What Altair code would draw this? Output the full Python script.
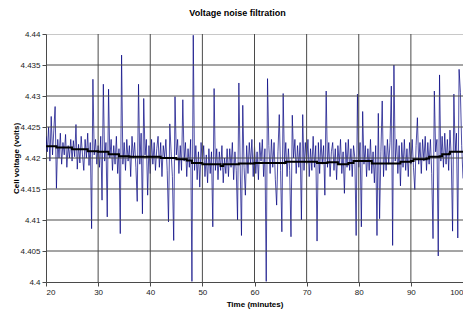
import altair as alt
import pandas as pd
import numpy as np

# Raw cell voltage, sampled every 0.25 min from t=20 to t=100,
# stored as deviation from 4.42 V in units of 0.1 mV
noise_dev = [
    35, 10, 50, -5, 67, 5, 45, 83, -49, 30, 0, 40, -10, 25, 5, 38, -15, 20, 0, 30,
    -5, 28, 2, 54, -18, 22, -8, 35, 5, -20, 30, 0, 40, -12, 25, -114, 127, 5, 30, -10,
    20, -15, 35, -68, 119, -5, 25, -95, 111, 0, 30, -20, 20, -10, 35, -25, 15, -122, 166, -10,
    25, -20, 30, -5, 20, -30, 35, 0, 25, -15, -70, 119, -10, 40, -90, 96, 5, 30, -60, 20,
    -25, 30, -10, 25, -20, 15, 35, -15, 25, -30, 20, 0, 30, -20, -103, 55, 10, -30, -133, 99,
    5, 30, -25, 20, -20, 94, -5, 25, -30, 15, -15, 30, -199, 198, -20, 20, -35, 10, -47, 25,
    -10, 20, -30, 5, -40, 15, -25, 10, -111, 112, -20, 15, -35, 10, -20, 20, -40, 0, -25, 15,
    -30, 15, -15, 25, -35, 10, -20, -100, 121, -10, -125, 85, -15, -60, 20, -25, 25, -10, 30, -30,
    20, -25, 10, -35, 25, -5, 30, -30, 15, -199, 128, 20, -25, 30, -15, 25, -35, -76, 10, 70,
    -20, -119, 104, -10, 25, -30, 15, -20, -127, 69, 0, 30, -25, 20, -15, 25, -100, 70, -20, 25,
    -10, 30, -30, 15, -20, 35, -15, 20, -134, 25, -25, 30, -10, 20, -60, 108, -15, 25, -30, 10,
    25, -20, 15, -35, 20, -10, 30, -25, 10, -57, 25, -15, 30, -20, 15, -30, 20, 0, -125, 103,
    -15, 25, -111, 75, -10, 20, -30, 15, -20, 30, -25, 10, -40, 20, -125, 72, -98, 10, 92, -30,
    20, -20, 30, -10, 25, 116, -141, 150, -5, 30, -25, 20, -45, 25, -15, 30, -20, 15, -30, 25,
    -10, 30, -15, -51, 20, 65, -10, 25, -25, 30, -5, 35, -20, 25, -10, 30, -25, -130, 108, 10,
    30, -158, 134, -5, 35, -15, 40, -10, 30, -20, 45, 0, -118, 103, 10, 40, -129, 143, 106, 20,
    -33,
]

# Filtered (smoothed) voltage
smooth_t = [20, 22, 25, 28, 30, 32, 34, 36, 40, 42, 45, 47, 48, 50, 53.5, 54, 57, 60, 64, 66,
            70, 72, 74, 76, 78, 79, 82, 82.5, 87.5, 88, 90, 90.5, 93, 93.5, 95.5, 96, 97.3, 97.5, 100]
smooth_v = [4.4219, 4.4217, 4.4214, 4.4211, 4.4210, 4.4206, 4.4203, 4.4202, 4.4202, 4.4200,
            4.4198, 4.4196, 4.4192, 4.4190, 4.4187, 4.4190, 4.4191, 4.4192, 4.4192, 4.4194,
            4.4194, 4.4192, 4.4193, 4.4190, 4.4192, 4.4195, 4.4195, 4.4191, 4.4191, 4.4194,
            4.4195, 4.4198, 4.4199, 4.4202, 4.4203, 4.4206, 4.4207, 4.4210, 4.4211]

x_ticks = [20, 30, 40, 50, 60, 70, 80, 90, 100]
y_ticks = [4.4, 4.405, 4.41, 4.415, 4.42, 4.425, 4.43, 4.435, 4.44]

t_noise = 20 + 0.25 * np.arange(len(noise_dev))
noise_df = pd.DataFrame({"t": t_noise, "v": 4.42 + np.array(noise_dev) / 10000.0})
smooth_df = pd.DataFrame({"t": smooth_t, "v": smooth_v})
xgrid_df = pd.DataFrame({"t": x_ticks[1:-1]})
ygrid_df = pd.DataFrame({"v": y_ticks[1:-1]})

FONT = "Liberation Sans"
GRID = "#4a4a4a"
W, H = 417, 248

x_scale = alt.Scale(domain=[20, 100], nice=False, zero=False)
y_scale = alt.Scale(domain=[4.4, 4.44], nice=False, zero=False)

x_ax = alt.Axis(values=x_ticks, title="Time (minutes)", format="d", grid=False,
                labelOverlap=False, titleY=22, titleBaseline="middle")
y_ax = alt.Axis(values=y_ticks, tickCount=9, title="Cell voltage (volts)", format=".3~f",
                grid=False, labelOverlap=False, titleX=-30, titleY=H / 2, titleAngle=-90,
                titleBaseline="middle")

def X():
    return alt.X("t:Q", scale=x_scale, axis=x_ax)

def Y():
    return alt.Y("v:Q", scale=y_scale, axis=y_ax)

noise = alt.Chart(noise_df).mark_line(color="#000080", strokeWidth=0.7, clip=True).encode(x=X(), y=Y())
xgrid = alt.Chart(xgrid_df).mark_rule(color=GRID, strokeWidth=1).encode(x=X())
ygrid = alt.Chart(ygrid_df).mark_rule(color=GRID, strokeWidth=1).encode(y=Y())
smooth = alt.Chart(smooth_df).mark_line(color="#000000", strokeWidth=2, interpolate="step-after").encode(x=X(), y=Y())

chart = (
    alt.layer(noise, xgrid, ygrid, smooth)
    .properties(
        width=W, height=H,
        title=alt.TitleParams("Voltage noise filtration", fontSize=9, fontWeight="bold", font=FONT,
                              offset=12, anchor="middle", dx=-17, color="#000"),
        autosize=alt.AutoSizeParams(type="none"),
        padding={"left": 38, "top": 26, "right": 0, "bottom": 27},
    )
    .configure_view(stroke="#c8c8c8", strokeWidth=1)
    .configure_axis(
        labelFont=FONT, labelFontSize=8, labelColor="#222",
        titleFont=FONT, titleFontSize=8, titleFontWeight="bold", titleColor="#000",
        domainColor=GRID, tickColor=GRID, tickSize=4, labelPadding=2,
    )
)

chart.save("out.html", embed_options={"renderer": "svg", "actions": False})
